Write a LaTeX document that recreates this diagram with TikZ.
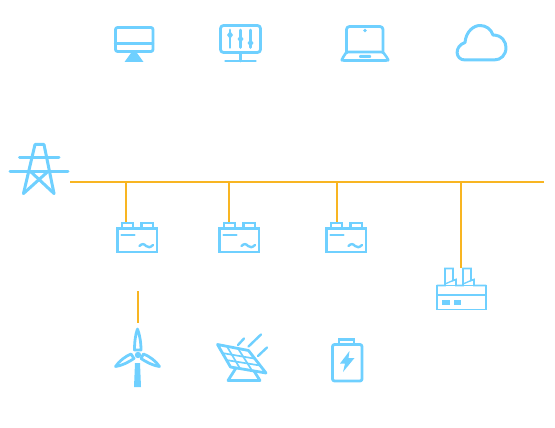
\documentclass[tikz,border=0pt]{standalone}
\definecolor{iconblue}{HTML}{6FD0FF}
\definecolor{busorange}{HTML}{F8B522}
\tikzset{
  icon/.style={draw=iconblue,line width=2.8pt,line join=round,line cap=round,fill=none},
  iconthin/.style={draw=iconblue,line width=2.4pt,line join=round,line cap=round},
  iconfine/.style={draw=iconblue,line width=1.7pt,line join=round,line cap=round},
  solid/.style={fill=iconblue,draw=none},
  wire/.style={draw=busorange,line width=1.8pt},
  batteryicon/.pic={
    \draw[icon,line cap=butt,line join=miter] (117.5,228.5) rectangle (157,252);
    \draw[iconthin,line join=miter] (122,228) -- (122,222.8) -- (133,222.8) -- (133,228);
    \draw[iconthin,line join=miter] (141.5,228) -- (141.5,222.8) -- (153,222.8) -- (153,228);
    \draw[iconthin] (121.5,235) -- (134.5,235);
    \draw[iconthin] (139.5,246) .. controls (142,243.5) and (144,243.5) .. (146,246) .. controls (148,248) and (150.5,247.5) .. (153,245);
  }
}
\begin{document}
\begin{tikzpicture}[x=1pt,y=-1pt]
\useasboundingbox (0,0) rectangle (555,428);
% bus coordinates
\coordinate (busL) at (70,182);
\coordinate (busR) at (544,182);
\coordinate (j1) at (126,182);
\coordinate (j2) at (229,182);
\coordinate (j3) at (337,182);
\coordinate (j4) at (461,182);
\coordinate (b1) at (126,222);
\coordinate (b2) at (229,222);
\coordinate (b3) at (337,222);
\coordinate (fac) at (461,268);
\coordinate (wt) at (138,291);
\coordinate (wb) at (138,323);
\draw[wire] (busL) -- (busR);
\draw[wire] (j1) -- (b1);
\draw[wire] (j2) -- (b2);
\draw[wire] (j3) -- (b3);
\draw[wire] (j4) -- (fac);
\draw[wire] (wt) -- (wb);
% desktop
\draw[icon,rounded corners=2pt] (115.5,27.5) rectangle (153,51.5);
\draw[iconthin] (115,43.5) -- (153,43.5);
\fill[solid] (131,53) -- (137,53) -- (143.5,62) -- (124.5,62) -- cycle;
% monitor with sliders
\draw[icon,rounded corners=3pt] (220.5,25.5) rectangle (260.5,52.5);
\draw[icon] (240.5,53) -- (240.5,61);
\draw[icon] (225.5,61) -- (255.5,61);
\foreach \sx/\sy in {230/35,240.5/39,250.5/43}{
  \draw[icon] (\sx,30) -- (\sx,47.5);
  \fill[solid] (\sx,\sy-4) -- (\sx+3,\sy) -- (\sx,\sy+4) -- (\sx-3,\sy) -- cycle;
}
% laptop
\draw[icon,rounded corners=3pt] (346.5,52) -- (346.5,26.5) -- (383,26.5) -- (383,52);
\draw[iconthin,line width=2.6pt,rounded corners=1.5pt] (346.5,52) -- (383,52) -- (388,59) -- (388,60.5) -- (342,60.5) -- (342,59) -- cycle;
\fill[solid] (365,30.5) circle (1.8);
\fill[solid,rounded corners=1pt] (359,55) rectangle (371,58);
% cloud
\draw[icon,line width=3pt] (465,60) .. controls (455,60) and (454,46) .. (465,42.5)
 .. controls (466,31) and (474,25.5) .. (480,25.5)
 .. controls (486,25.5) and (491,29) .. (493,35)
 .. controls (502,35) and (506,42) .. (506,47.5)
 .. controls (506,55) and (501,60) .. (494,60) -- cycle;
% tower
\draw[icon,line width=3pt] (23.5,193.5) -- (35,144.5) -- (44,144.5) -- (54,193.5);
\draw[icon,line width=3pt] (19.5,157) -- (59,157);
\draw[icon,line width=3pt] (10,171) -- (68,171);
\draw[icon,line width=3pt] (23.5,193.5) -- (48.5,171);
\draw[icon,line width=3pt] (54,193.5) -- (30,171);
% batteries
\path (0,0) pic {batteryicon};
\path (102,0) pic {batteryicon};
\path (209,0) pic {batteryicon};
% factory
\draw[iconfine,line join=miter] (437,285.5) rectangle (486,309.5);
\draw[iconfine] (437,295) -- (486,295);
\draw[iconfine,line join=miter] (437,285.5) -- (445,285.5) -- (445,268.5) -- (453,268.5) -- (453,280.5) -- (456,279.5) -- (456,285.5) -- (463,285.5) -- (463,268.5) -- (471,268.5) -- (471,280.5) -- (474,279.5) -- (474,285.5) -- (486,285.5);
\draw[iconblue,line width=1.3pt] (445,284) -- (453,280.5);
\draw[iconblue,line width=1.3pt] (463,284) -- (471,280.5);
\fill[solid] (442,300) rectangle (449.5,304.5);
\fill[solid] (454,300) rectangle (461,304.5);
% wind turbine
\draw[icon] (137.5,329) .. controls (135.5,334) and (134.5,342) .. (134.5,350) -- (141,350) .. controls (141,342) and (139.5,334) .. (137.5,329) -- cycle;
\fill[solid] (138,355) circle (3.2);
\draw[icon] (131,354) .. controls (126,356) and (119,361) .. (115.5,366.5) .. controls (121,366) and (129,362) .. (134,358.5) -- cycle;
\draw[icon] (143.5,354) .. controls (149,356) and (156,361) .. (159.5,366.5) .. controls (154,366) and (146,362) .. (141,358.5) -- cycle;
\fill[solid] (135,363) -- (140,363) -- (141,387) -- (134,387) -- cycle;
% solar panel
\draw[icon] (217.5,344.5) -- (248.5,350.5) -- (266,373) -- (230.5,367) -- cycle;
\draw[iconfine] (227,346.5) -- (240,368.5);
\draw[iconfine] (238,348.5) -- (252,370.5);
\draw[iconfine] (222,353) -- (254,358.5);
\draw[iconfine] (226,360) -- (260,365.5);
\draw[icon] (236,368) -- (228,380.5) -- (260,380.5) -- (254,371);
\draw[iconthin] (238,345) -- (244,338.5);
\draw[iconthin] (248.5,346.5) -- (261,334.5);
\draw[iconthin] (258,356) -- (267,347.5);
% charged battery
\draw[icon,rounded corners=2pt] (332.5,344.5) rectangle (362,381);
\draw[iconthin,line join=miter] (339,344) -- (339,339.5) -- (354,339.5) -- (354,344);
\fill[solid] (349.5,351) -- (340,363.5) -- (345,363.5) -- (343,372) -- (354.5,358) -- (348.5,358) -- cycle;
\end{tikzpicture}
\end{document}
